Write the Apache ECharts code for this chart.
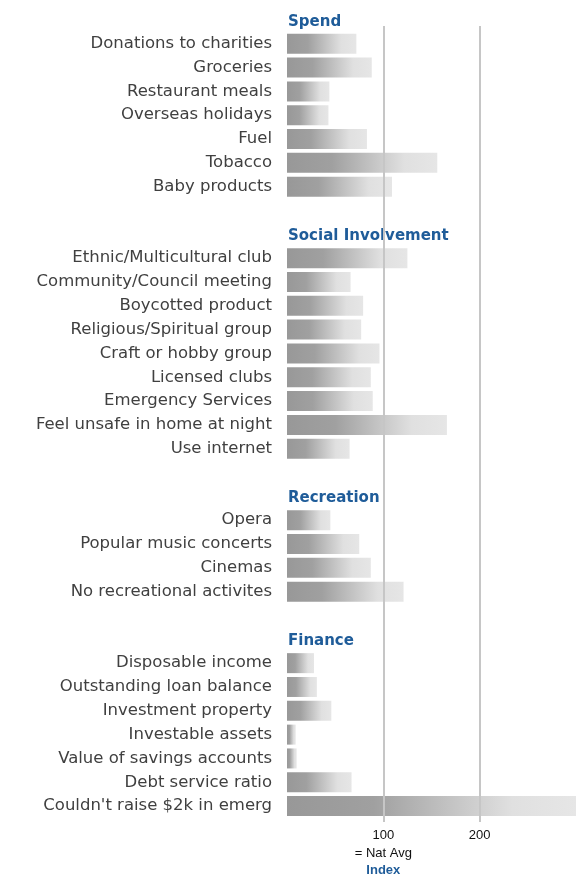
<!DOCTYPE html>
<html>
<head>
<meta charset="utf-8">
<script src="https://cdn.jsdelivr.net/npm/echarts@6/dist/echarts.min.js"></script>
<style>
  html, body { margin: 0; padding: 0; background: #fff; }
  #main { width: 583px; height: 880px; }
</style>
</head>
<body>
<div id="main"></div>
<script>
// group headers and rows, index vs national average (100)
var groups = ['Spend', 'Social Involvement', 'Recreation', 'Finance'];

var spendCats = ['Donations to charities', 'Groceries', 'Restaurant meals', 'Overseas holidays', 'Fuel', 'Tobacco', 'Baby products'];
var spendVals = [72, 88, 44, 43, 83, 156, 109];

var socialCats = ['Ethnic/Multicultural club', 'Community/Council meeting', 'Boycotted product', 'Religious/Spiritual group',
  'Craft or hobby group', 'Licensed clubs', 'Emergency Services', 'Feel unsafe in home at night', 'Use internet'];
var socialVals = [125, 66, 79, 77, 96, 87, 89, 166, 65];

var recreationCats = ['Opera', 'Popular music concerts', 'Cinemas', 'No recreational activites'];
var recreationVals = [45, 75, 87, 121];

var financeCats = ['Disposable income', 'Outstanding loan balance', 'Investment property', 'Investable assets',
  'Value of savings accounts', 'Debt service ratio', "Couldn't raise $2k in emerg"];
var financeVals = [28, 31, 46, 9, 10, 67, 300];

var xTicks = [100, 200];

// build the rows: header row, items, blank spacer row
var cats = [], vals = [], heads = [];
var blocks = [[spendCats, spendVals], [socialCats, socialVals], [recreationCats, recreationVals], [financeCats, financeVals]];
blocks.forEach(function (b, gi) {
  if (gi > 0) { cats.push(' '.repeat(gi)); vals.push('-'); heads.push('-'); }
  cats.push(groups[gi]); vals.push('-'); heads.push(0);
  for (var i = 0; i < b[0].length; i++) {
    cats.push(b[0][i]); vals.push(b[1][i]); heads.push('-');
  }
});

var myChart = echarts.init(document.getElementById('main'));

var barColor = new echarts.graphic.LinearGradient(0, 0, 1, 0, [
  { offset: 0, color: '#989898' },
  { offset: 0.3, color: '#a0a0a0' },
  { offset: 0.78, color: '#e0e0e0' },
  { offset: 1, color: '#e6e6e6' }
]);

var option = {
  animation: false,
  grid: [
    { left: 287, right: 7, top: 8, bottom: 62 },
    { left: 287, right: 7, top: 26, bottom: 58 }
  ],
  xAxis: [
    { gridIndex: 0, type: 'value', min: 0, max: 300, interval: 100, show: false },
    {
      gridIndex: 1, type: 'value', min: 0, max: 300, interval: 100, z: 5,
      axisLine: { show: false },
      axisTick: { show: false },
      splitLine: {
        show: true, showMinLine: false, showMaxLine: false,
        lineStyle: { color: '#c6c6c6', width: 2 }
      },
      axisLabel: {
        margin: 5,
        fontFamily: 'Liberation Sans, Arial',
        fontSize: 13,
        color: '#111',
        lineHeight: 17,
        formatter: function (v) {
          if (v === xTicks[0]) return v + '\n{n|= Nat Avg}\n{b|Index}';
          if (xTicks.indexOf(v) >= 0) return String(v);
          return '';
        },
        rich: {
          n: { fontFamily: 'Liberation Sans, Arial', fontSize: 13, color: '#111', lineHeight: 18 },
          b: { fontFamily: 'Liberation Sans, Arial', fontSize: 13, fontWeight: 'bold', color: '#1f5c99', lineHeight: 16 }
        }
      }
    }
  ],
  yAxis: [
    {
      gridIndex: 0, type: 'category', data: cats, inverse: true,
      axisLine: { show: false },
      axisTick: { show: false },
      axisLabel: {
        interval: 0,
        margin: 15,
        fontFamily: 'DejaVu Sans',
        fontSize: 16.5,
        color: '#404040',
        formatter: function (v) {
          return groups.indexOf(v) >= 0 ? '' : v;
        }
      }
    },
    { gridIndex: 1, type: 'value', min: 0, max: 1, show: false }
  ],
  series: [
    {
      name: 'Index',
      type: 'bar',
      xAxisIndex: 0,
      yAxisIndex: 0,
      data: vals,
      barWidth: 20,
      itemStyle: { color: barColor },
      silent: true
    },
    {
      name: 'Group',
      type: 'bar',
      xAxisIndex: 0,
      yAxisIndex: 0,
      data: heads,
      barGap: '-100%',
      barWidth: 20,
      itemStyle: { color: 'transparent' },
      silent: true,
      label: {
        show: true,
        position: 'right',
        distance: 1,
        offset: [0, 2],
        formatter: function (p) { return p.name; },
        fontFamily: 'DejaVu Sans',
        fontWeight: 'bold',
        fontSize: 15,
        color: '#1f5c99'
      }
    }
  ]
};

option && myChart.setOption(option);
</script>
</body>
</html>
